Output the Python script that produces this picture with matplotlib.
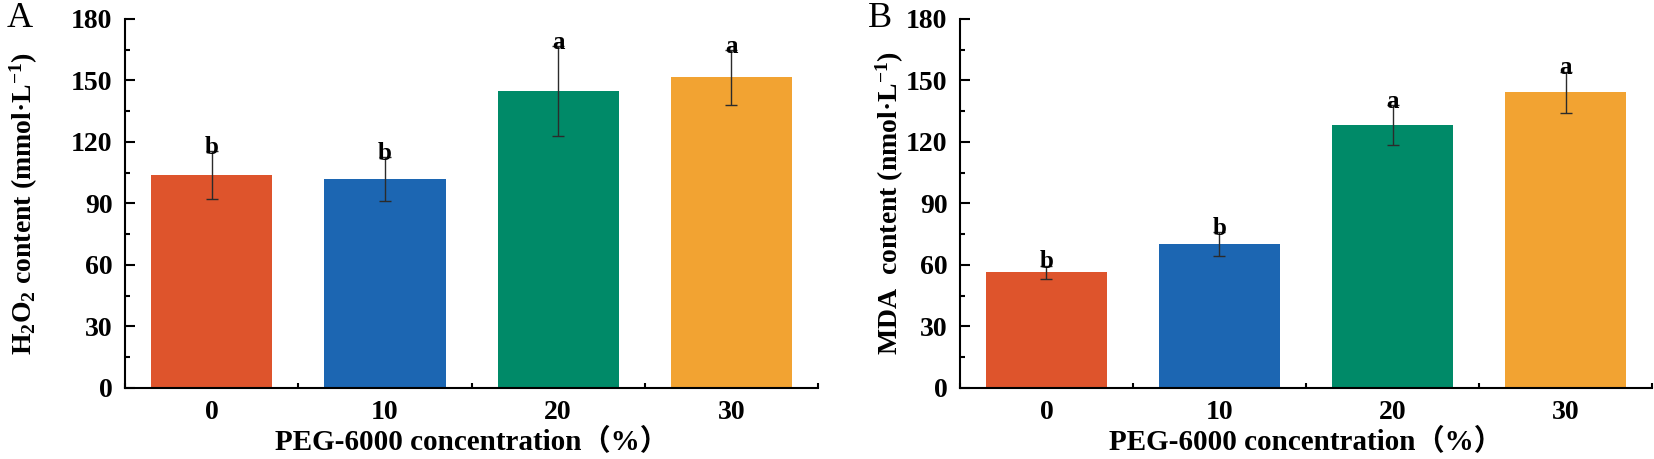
import numpy as np
import matplotlib
matplotlib.use('Agg')
from matplotlib import pyplot as plt
from matplotlib.ticker import MultipleLocator

plt.rcParams['font.family'] = ['Liberation Serif', 'Noto Sans CJK SC']
plt.rcParams['font.weight'] = 'bold'
plt.rcParams['mathtext.default'] = 'regular'

conc = ['0', '10', '20', '30']
colors = ['#DE542C', '#1C66B2', '#008A68', '#F2A332']

h2o2 = [103.7, 101.8, 144.9, 151.5]
h2o2_err = [11.7, 10.7, 21.8, 13.3]
h2o2_sig = ['b', 'b', 'a', 'a']

mda = [56.4, 70.2, 128.3, 144.2]
mda_err = [3.2, 5.8, 9.6, 10.1]
mda_sig = ['b', 'b', 'a', 'a']

fig = plt.figure(figsize=(16.54, 4.59), dpi=100)
ax1 = fig.add_axes([0.0756, 0.1547, 0.419, 0.804])
ax2 = fig.add_axes([0.5804, 0.1547, 0.4184, 0.804])

panels = [
    (ax1, h2o2, h2o2_err, h2o2_sig, 'H$_2$O$_2$ content (mmol·L$^{-1}$)', -0.123),
    (ax2, mda, mda_err, mda_sig, 'MDA  content (nmol·L$^{-1}$)', -0.078),
]

for ax, vals, errs, sig, ylab, lx in panels:
    x = np.arange(len(conc))
    ax.bar(x, vals, width=0.7, color=colors, zorder=2)
    ax.errorbar(x, vals, yerr=errs, fmt='none', ecolor='#2b2b2b',
                elinewidth=1, capsize=4.3, capthick=1, zorder=3)
    for xi, v, e, s in zip(x, vals, errs, sig):
        ax.text(xi, v + e + 2, s, ha='center', va='center',
                fontsize=18, fontweight='bold', zorder=4)

    ax.set_xlim(-0.5, 3.5)
    ax.set_ylim(0, 180)
    ax.set_xticks(x)
    ax.set_xticklabels(conc)
    ax.set_xticks(np.arange(-0.5, 4, 1), minor=True)
    ax.yaxis.set_major_locator(MultipleLocator(30))
    ax.yaxis.set_minor_locator(MultipleLocator(15))

    for side in ['top', 'right']:
        ax.spines[side].set_visible(False)
    for side in ['left', 'bottom']:
        ax.spines[side].set_linewidth(1.5)

    ax.tick_params(which='major', direction='in', length=7, width=1.5,
                   labelsize=20, pad=9)
    ax.tick_params(which='minor', direction='in', length=3.5, width=1.5)
    for lbl in ax.get_xticklabels() + ax.get_yticklabels():
        lbl.set_fontweight('bold')

    ax.set_ylabel(ylab, fontsize=20, fontweight='bold')
    ax.yaxis.set_label_coords(lx, 0.5)
    ax.set_xlabel('PEG-6000 concentration（%）', fontsize=21,
                  fontweight='bold', labelpad=2)

fig.text(0.004, 0.995, 'A', fontsize=26, fontweight='normal',
         family='Liberation Serif', va='top', ha='left')
fig.text(0.525, 0.995, 'B', fontsize=26, fontweight='normal',
         family='Liberation Serif', va='top', ha='left')

fig.savefig('out.png', dpi=100)
